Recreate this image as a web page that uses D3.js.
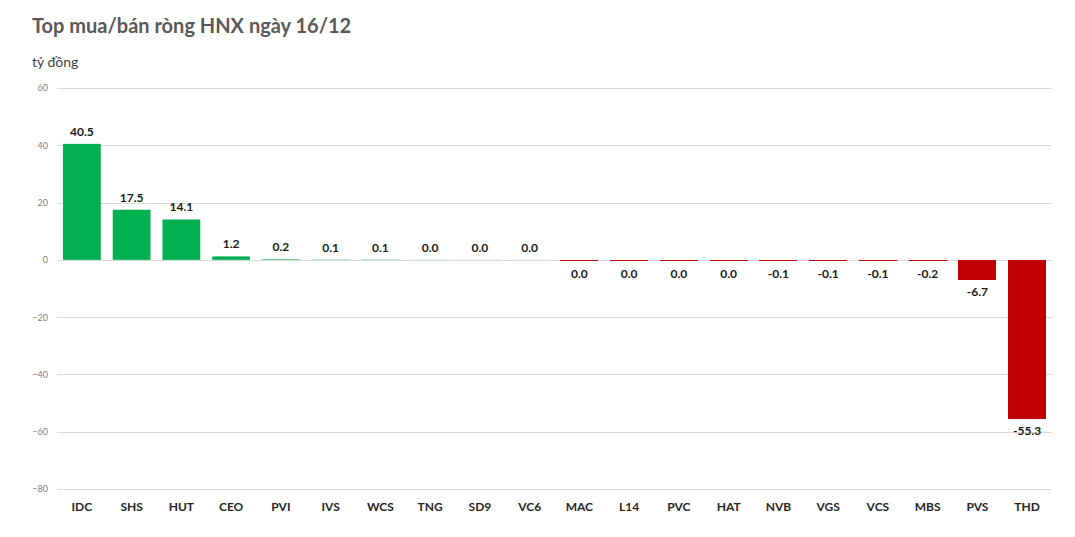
<!DOCTYPE html>
<html><head><meta charset="utf-8">
<script src="https://cdn.jsdelivr.net/npm/d3@7"></script>
<style>body{margin:0;background:#fff}svg{display:block}</style>
</head><body>
<svg id="c" width="1075" height="537"></svg>
<script>
const categories = ["IDC","SHS","HUT","CEO","PVI","IVS","WCS","TNG","SD9","VC6","MAC","L14","PVC","HAT","NVB","VGS","VCS","MBS","PVS","THD"];
const values = [40.5,17.5,14.1,1.2,0.2,0.1,0.1,0.04,0.03,0.02,-0.02,-0.03,-0.04,-0.04,-0.1,-0.1,-0.1,-0.2,-6.7,-55.3];
const yTicks = [60,40,20,0,-20,-40,-60,-80];
const titleText = "Top mua/bán ròng HNX ngày 16/12";
const unitText = "tỷ đồng";

const svg = d3.select("#c");
const font = "Lato, 'Open Sans', sans-serif";
const x = d3.scaleBand().domain(categories).range([57,1052]).paddingInner(0.24).paddingOuter(0.12);
const y = d3.scaleLinear().domain([-80,60]).range([489,88]);

svg.append("text").attr("x",32).attr("y",33).attr("font-family",font).attr("font-weight","bold")
  .attr("font-size",20).attr("fill","#595959").text(titleText);
svg.append("text").attr("x",32).attr("y",67).attr("font-family",font)
  .attr("font-size",14).attr("fill","#404040").text(unitText);

const yAxis = d3.axisLeft(y).tickValues(yTicks).tickSize(-(1052-57)).tickPadding(9).tickFormat(d3.format("d"));
const gy = svg.append("g").attr("transform","translate(57,0)").call(yAxis);
gy.select(".domain").remove();
gy.selectAll(".tick line").attr("stroke","#d9d9d9").attr("stroke-width",1).attr("shape-rendering","crispEdges");
gy.selectAll(".tick text").attr("font-family",font).attr("font-size",9).attr("fill","#808080");

const xAxis = d3.axisBottom(x).tickSize(0).tickPadding(0);
const gx = svg.append("g").attr("transform","translate(0,507)").call(xAxis);
gx.select(".domain").remove();
gx.selectAll(".tick text").attr("font-family",font).attr("font-weight","bold").attr("font-size",12)
  .attr("fill","#262626").attr("dy","0.35em");

const y0 = y(0);
svg.append("g").selectAll("rect").data(values).join("rect")
  .attr("x",(d,i)=>x(categories[i]))
  .attr("width",x.bandwidth())
  .attr("y",d=> d>=0 ? y(d) : y0+0.5)
  .attr("height",d=> d>=0 ? Math.max(0,y0-y(d)) : Math.max(1,y(d)-y0))
  .attr("fill",d=> d>=0 ? "#00b050" : "#c00000")
  .attr("shape-rendering",d=> d>=0 ? "auto" : "crispEdges");

const fmt = d => { const s = d.toFixed(1); return (+s===0) ? "0.0" : s; };
svg.append("g").selectAll("text").data(values).join("text")
  .attr("x",(d,i)=>x(categories[i])+x.bandwidth()/2)
  .attr("y",d=> d>=0 ? y(d)-8 : Math.max(y(d), y0+1)+17)
  .attr("text-anchor","middle").attr("font-family",font).attr("font-weight","bold")
  .attr("font-size",12).attr("fill","#1a1a1a").text(fmt);
</script>
</body></html>
